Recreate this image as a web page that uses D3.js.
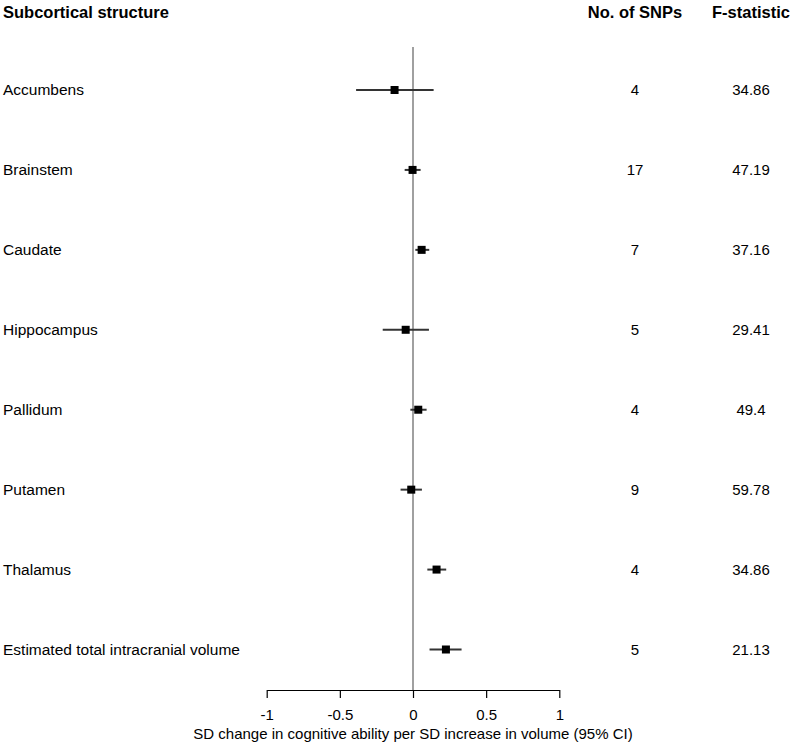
<!DOCTYPE html>
<html>
<head>
<meta charset="utf-8">
<script src="https://cdn.jsdelivr.net/npm/d3@7"></script>
<style>
  html, body { margin: 0; padding: 0; background: #fff; }
  svg { display: block; font-family: "Liberation Sans", Arial, sans-serif; }
</style>
</head>
<body>
<svg id="chart" width="792" height="746"></svg>
<script>
  const structures = ["Accumbens", "Brainstem", "Caudate", "Hippocampus", "Pallidum", "Putamen", "Thalamus", "Estimated total intracranial volume"];
  const estimates = [-0.126, -0.003, 0.059, -0.05, 0.036, -0.012, 0.161, 0.225];
  const lowerCI = [-0.389, -0.057, 0.016, -0.207, -0.018, -0.085, 0.098, 0.113];
  const upperCI = [0.141, 0.052, 0.111, 0.109, 0.093, 0.061, 0.227, 0.332];
  const nSnps = ["4", "17", "7", "5", "4", "9", "4", "5"];
  const fStats = ["34.86", "47.19", "37.16", "29.41", "49.4", "59.78", "34.86", "21.13"];
  const xTicks = [-1, -0.5, 0, 0.5, 1];

  const rows = structures.map((name, i) => ({ name, est: estimates[i], lo: lowerCI[i], hi: upperCI[i], snps: nSnps[i], f: fStats[i] }));

  const svg = d3.select("#chart");
  const x = d3.scaleLinear().domain([-1, 1]).range([266.7, 559.3]);
  const y = d3.scalePoint().domain(structures).range([90, 649.5]);
  const axisY = 690;
  const snpX = 635;
  const fX = 751;

  // headers
  const header = svg.append("g").style("font-weight", "bold").style("font-size", "16.5px").attr("fill", "#000");
  header.append("text").attr("x", 3).attr("y", 18).text("Subcortical structure");
  header.append("text").attr("x", snpX).attr("y", 18).attr("text-anchor", "middle").text("No. of SNPs");
  header.append("text").attr("x", fX).attr("y", 18).attr("text-anchor", "middle").text("F-statistic");

  // zero reference line
  svg.append("line")
    .attr("x1", x(0)).attr("x2", x(0))
    .attr("y1", 47).attr("y2", axisY)
    .attr("stroke", "#808080").attr("stroke-width", 1.5);

  // row labels and columns
  svg.append("g").selectAll("text")
    .data(rows)
    .join("text")
    .attr("x", 3)
    .attr("y", (d) => y(d.name) + 5)
    .style("font-size", "15.5px")
    .text((d) => d.name);

  svg.append("g").selectAll("text")
    .data(rows)
    .join("text")
    .attr("x", snpX)
    .attr("y", (d) => y(d.name) + 5)
    .attr("text-anchor", "middle")
    .style("font-size", "15px")
    .text((d) => d.snps);

  svg.append("g").selectAll("text")
    .data(rows)
    .join("text")
    .attr("x", fX)
    .attr("y", (d) => y(d.name) + 5)
    .attr("text-anchor", "middle")
    .style("font-size", "15px")
    .text((d) => d.f);

  // confidence intervals
  svg.append("g").selectAll("line")
    .data(rows)
    .join("line")
    .attr("x1", (d) => x(d.lo))
    .attr("x2", (d) => x(d.hi))
    .attr("y1", (d) => y(d.name))
    .attr("y2", (d) => y(d.name))
    .attr("stroke", "#333")
    .attr("stroke-width", 2);

  // point estimates
  const sq = 8;
  svg.append("g").selectAll("rect")
    .data(rows)
    .join("rect")
    .attr("x", (d) => x(d.est) - sq / 2)
    .attr("y", (d) => y(d.name) - sq / 2)
    .attr("width", sq)
    .attr("height", sq)
    .attr("fill", "#000");

  // x axis
  svg.append("g")
    .attr("transform", `translate(0,${axisY})`)
    .call(d3.axisBottom(x).tickValues(xTicks).tickFormat((d) => String(d)).tickSize(8).tickSizeOuter(0).tickPadding(11))
    .call((axis) => axis.selectAll("text").attr("fill", "#000").style("font-size", "15px").style("font-family", "'Liberation Sans', Arial, sans-serif"))
    .call((axis) => axis.selectAll("path,line").attr("stroke", "#000").attr("stroke-width", 1.2));

  svg.append("text")
    .attr("x", x(0))
    .attr("y", 739)
    .attr("text-anchor", "middle")
    .style("font-size", "15px")
    .text("SD change in cognitive ability per SD increase in volume (95% CI)");
</script>
</body>
</html>
